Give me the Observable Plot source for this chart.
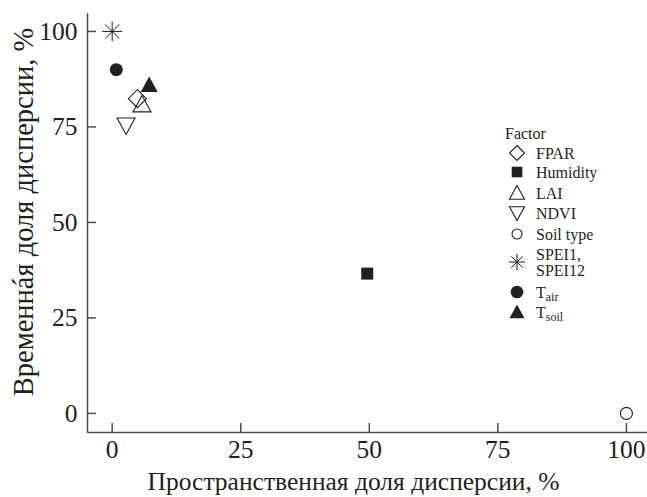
<!DOCTYPE html>
<html>
<head>
<meta charset="utf-8">
<script src="https://cdn.jsdelivr.net/npm/d3@7"></script>
<script src="https://cdn.jsdelivr.net/npm/@observablehq/plot@0.6"></script>
<style>
  body { margin: 0; background: #fff; }
  #chart { width: 647px; height: 497px; }
</style>
</head>
<body>
<div id="chart"></div>
<script>
// Share of variance explained by each factor: spatial (x) vs temporal (y), %
const factors = ["FPAR", "Humidity", "LAI", "NDVI", "Soil type", "SPEI1, SPEI12", "Tair", "Tsoil"];
const spatialShare = [4.9, 49.6, 5.8, 2.7, 100, 0, 0.8, 7.2];
const temporalShare = [82.4, 36.6, 80.9, 75.4, 0, 100, 90, 86];

const xTicks = [0, 25, 50, 75, 100];
const yTicks = [0, 25, 50, 75, 100];

const xTitle = "Пространственная доля дисперсии, %";
const yTitle = "Временнáя доля дисперсии, %";
const legendTitle = "Factor";
// Legend label pieces: text lines, or a base letter with a subscript
const legendLabels = [
  {lines: ["FPAR"]},
  {lines: ["Humidity"]},
  {lines: ["LAI"]},
  {lines: ["NDVI"]},
  {lines: ["Soil type"]},
  {lines: ["SPEI1,", "SPEI12"]},
  {base: "T", sub: "air"},
  {base: "T", sub: "soil"}
];

const rows = factors.map((factor, i) => ({factor, spatial: spatialShare[i], temporal: temporalShare[i]}));

// Custom marker shapes; Plot hands draw() an area of π·r²
const radius = size => Math.sqrt(size / Math.PI);
const shapes = {
  diamond: {draw(c, size) { const r = radius(size); c.moveTo(0, -r); c.lineTo(r, 0); c.lineTo(0, r); c.lineTo(-r, 0); c.closePath(); }},
  square: {draw(c, size) { const r = radius(size); c.rect(-r, -r, 2 * r, 2 * r); }},
  triUp: {draw(c, size) { const r = radius(size); c.moveTo(0, -r); c.lineTo(r, 0.83 * r); c.lineTo(-r, 0.83 * r); c.closePath(); }},
  triDown: {draw(c, size) { const r = radius(size); c.moveTo(0, r); c.lineTo(r, -0.83 * r); c.lineTo(-r, -0.83 * r); c.closePath(); }},
  circle: {draw(c, size) { const r = radius(size); c.moveTo(r, 0); c.arc(0, 0, r, 0, 2 * Math.PI); }},
  asterisk: {draw(c, size) {
    const r = radius(size);
    for (let k = 0; k < 4; k++) {
      const a = k * Math.PI / 4;
      c.moveTo(-r * Math.cos(a), -r * Math.sin(a));
      c.lineTo(r * Math.cos(a), r * Math.sin(a));
    }
  }}
};

const ink = "#231f20";
const markerStyle = {
  "FPAR":          {shape: shapes.diamond,  r: 9,   lr: 7.5, fill: "none", stroke: ink, strokeWidth: 1.1},
  "Humidity":      {shape: shapes.square,   r: 6,   lr: 5.3, fill: ink,    stroke: ink, strokeWidth: 0},
  "LAI":           {shape: shapes.triUp,    r: 9,   lr: 7.5, fill: "none", stroke: ink, strokeWidth: 1.1},
  "NDVI":          {shape: shapes.triDown,  r: 9,   lr: 7.5, fill: "none", stroke: ink, strokeWidth: 1.1},
  "Soil type":     {shape: shapes.circle,   r: 6,   lr: 5,   fill: "none", stroke: ink, strokeWidth: 1.1},
  "SPEI1, SPEI12": {shape: shapes.asterisk, r: 10,  lr: 8,   fill: "none", stroke: ink, strokeWidth: 1},
  "Tair":          {shape: shapes.circle,   r: 6.5, lr: 6.3, fill: ink,    stroke: ink, strokeWidth: 0},
  "Tsoil":         {shape: shapes.triUp,    r: 8.5, lr: 7.5, fill: ink,    stroke: ink, strokeWidth: 0}
};

const xDomain = [-4.8, 104.1];
const yDomain = [-5, 104.7];
const axisColor = "#4d4d4f";
const fontSize = 25.5;
const serif = "'Liberation Serif', 'Times New Roman', serif";

const chart = Plot.plot({
  width: 647,
  height: 497,
  marginLeft: 87,
  marginRight: 0,
  marginTop: 13,
  marginBottom: 65,
  style: {fontFamily: serif, color: ink, background: "#fff", overflow: "visible"},
  x: {domain: xDomain},
  y: {domain: yDomain},
  marks: [
    Plot.axisX(xTicks, {tickSize: 0, tickPadding: 7, fontSize, label: null}),
    Plot.axisY(yTicks, {tickSize: 0, tickPadding: 10, fontSize, label: null}),
    // inward-pointing tick marks
    Plot.tickX(xTicks, {x: d => d, insetTop: 410, stroke: axisColor, strokeWidth: 1.5}),
    Plot.tickY(yTicks, {y: d => d, insetRight: 551, stroke: axisColor, strokeWidth: 1.5}),
    // axis lines
    Plot.ruleY([yDomain[0]], {stroke: axisColor, strokeWidth: 1.5}),
    Plot.ruleX([xDomain[0]], {stroke: axisColor, strokeWidth: 1.5}),
    Plot.text([xTitle], {text: d => d, frameAnchor: "bottom", textAnchor: "middle", lineAnchor: "middle", dx: -14, dy: 49, fontSize, fill: ink}),
    Plot.text([yTitle], {text: d => d, frameAnchor: "left", textAnchor: "middle", lineAnchor: "middle", rotate: -90, dx: -64, dy: -11, fontSize: 28.5, fill: ink}),
    ...factors.map(f => {
      const s = markerStyle[f];
      return Plot.dot(rows.filter(d => d.factor === f), {
        x: "spatial", y: "temporal", symbol: s.shape, r: s.r,
        fill: s.fill, stroke: s.stroke, strokeWidth: s.strokeWidth
      });
    })
  ]
});

// Legend drawn into the same SVG, reusing the marker shapes
const svg = d3.select(chart);
const legend = svg.append("g")
  .attr("font-family", serif)
  .attr("font-size", 16)
  .attr("text-anchor", "start")
  .attr("fill", ink);
const legendX = 517, legendTextX = 536;
const rowY = [153, 172, 193, 213, 234, 262, 292, 312];

legend.append("text").attr("x", 505).attr("y", 133).attr("dy", "0.35em").text(legendTitle);

factors.forEach((f, i) => {
  const s = markerStyle[f];
  const p = d3.path();
  s.shape.draw(p, Math.PI * s.lr * s.lr);
  legend.append("path")
    .attr("transform", `translate(${legendX},${rowY[i]})`)
    .attr("d", p.toString())
    .attr("fill", s.fill)
    .attr("stroke", s.stroke)
    .attr("stroke-width", s.strokeWidth);
  const lab = legendLabels[i];
  const t = legend.append("text").attr("x", legendTextX).attr("y", rowY[i]);
  if (lab.lines) {
    if (lab.lines.length === 1) {
      t.attr("dy", "0.35em").text(lab.lines[0]);
    } else {
      lab.lines.forEach((line, j) => {
        t.append("tspan").attr("x", legendTextX)
          .attr("dy", j === 0 ? `${0.35 - (lab.lines.length - 1) * 0.5}em` : "1em")
          .text(line);
      });
    }
  } else {
    t.attr("dy", "0.35em");
    t.append("tspan").text(lab.base);
    t.append("tspan").attr("font-size", 12).attr("dy", "0.3em").text(lab.sub);
  }
});

document.getElementById("chart").append(chart);
</script>
</body>
</html>
